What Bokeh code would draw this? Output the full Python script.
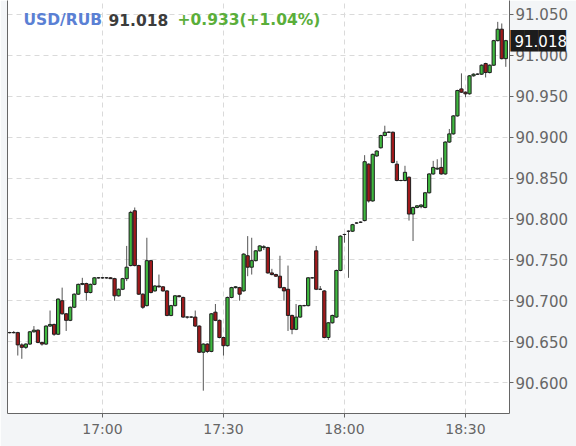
import pandas as pd
from bokeh.plotting import figure
from bokeh.models import (Range1d, FixedTicker, LinearAxis, Label, PrintfTickFormatter,
                          DatetimeTickFormatter, ColumnDataSource)
from bokeh.embed import file_html
from bokeh.resources import INLINE

# ---------------- data (1-minute candles, USD/RUB) ----------------
start_time = "2023-10-11 16:37"
opens = [90.661, 90.661, 90.661, 90.646, 90.643, 90.647, 90.662, 90.664, 90.649, 90.647,
         90.669, 90.671, 90.659, 90.700, 90.684, 90.676, 90.692, 90.708, 90.720, 90.721,
         90.710, 90.720, 90.728, 90.728, 90.728, 90.728, 90.727, 90.706, 90.714, 90.727,
         90.743, 90.810, 90.743, 90.708, 90.694, 90.749, 90.712, 90.718, 90.717, 90.712,
         90.682, 90.694, 90.706, 90.704, 90.680, 90.680, 90.680, 90.669, 90.637, 90.647,
         90.638, 90.686, 90.676, 90.655, 90.645, 90.704, 90.716, 90.716, 90.712, 90.755,
         90.741, 90.749, 90.761, 90.765, 90.765, 90.734, 90.732, 90.730, 90.716, 90.714,
         90.682, 90.665, 90.680, 90.694, 90.694, 90.728, 90.761, 90.714, 90.712, 90.655,
         90.673, 90.680, 90.737, 90.781, 90.785, 90.785, 90.795, 90.796, 90.798, 90.867,
         90.822, 90.877, 90.887, 90.902, 90.906, 90.906, 90.867, 90.847, 90.847, 90.851,
         90.806, 90.814, 90.815, 90.814, 90.832, 90.855, 90.861, 90.863, 90.855, 90.894,
         90.904, 90.926, 90.959, 90.955, 90.953, 90.975, 90.977, 90.977, 90.990, 90.979,
         90.988, 91.018, 91.032, 90.996]
highs = [90.662, 90.663, 90.662, 90.648, 90.648, 90.663, 90.669, 90.665, 90.650, 90.670,
         90.688, 90.672, 90.703, 90.716, 90.685, 90.693, 90.709, 90.721, 90.728, 90.722,
         90.721, 90.729, 90.729, 90.729, 90.729, 90.729, 90.728, 90.715, 90.728, 90.767,
         90.810, 90.814, 90.744, 90.709, 90.777, 90.750, 90.719, 90.732, 90.718, 90.713,
         90.695, 90.707, 90.707, 90.705, 90.681, 90.681, 90.688, 90.670, 90.648, 90.648,
         90.685, 90.696, 90.677, 90.656, 90.705, 90.717, 90.718, 90.717, 90.758, 90.779,
         90.777, 90.762, 90.768, 90.768, 90.766, 90.739, 90.733, 90.755, 90.717, 90.743,
         90.683, 90.696, 90.695, 90.695, 90.729, 90.729, 90.767, 90.718, 90.713, 90.674,
         90.683, 90.738, 90.780, 90.782, 90.786, 90.794, 90.796, 90.797, 90.878, 90.868,
         90.880, 90.884, 90.903, 90.914, 90.907, 90.907, 90.871, 90.848, 90.865, 90.852,
         90.815, 90.817, 90.818, 90.833, 90.856, 90.871, 90.873, 90.875, 90.895, 90.910,
         90.927, 90.958, 90.978, 90.956, 90.976, 90.978, 90.978, 90.989, 90.991, 90.989,
         91.019, 91.041, 91.039, 91.019]
lows = [90.660, 90.660, 90.633, 90.629, 90.641, 90.646, 90.661, 90.648, 90.645, 90.646,
        90.668, 90.657, 90.658, 90.683, 90.663, 90.675, 90.691, 90.707, 90.719, 90.700,
        90.709, 90.719, 90.727, 90.727, 90.727, 90.727, 90.700, 90.705, 90.713, 90.724,
        90.742, 90.742, 90.707, 90.690, 90.693, 90.709, 90.711, 90.716, 90.711, 90.681,
        90.681, 90.693, 90.704, 90.679, 90.678, 90.679, 90.668, 90.636, 90.590, 90.636,
        90.637, 90.675, 90.654, 90.633, 90.644, 90.703, 90.715, 90.700, 90.711, 90.730,
        90.732, 90.748, 90.760, 90.762, 90.733, 90.731, 90.729, 90.715, 90.700, 90.663,
        90.659, 90.664, 90.679, 90.693, 90.693, 90.727, 90.713, 90.713, 90.654, 90.652,
        90.672, 90.679, 90.736, 90.771, 90.728, 90.784, 90.794, 90.795, 90.797, 90.820,
        90.821, 90.876, 90.886, 90.901, 90.905, 90.868, 90.846, 90.846, 90.846, 90.798,
        90.773, 90.813, 90.813, 90.813, 90.831, 90.854, 90.860, 90.854, 90.854, 90.893,
        90.903, 90.925, 90.954, 90.949, 90.952, 90.974, 90.976, 90.976, 90.973, 90.978,
        90.987, 91.017, 90.995, 90.986]
closes = [90.661, 90.661, 90.646, 90.643, 90.647, 90.662, 90.664, 90.649, 90.647, 90.669,
          90.671, 90.659, 90.702, 90.684, 90.676, 90.692, 90.708, 90.720, 90.721, 90.710,
          90.720, 90.728, 90.728, 90.728, 90.728, 90.727, 90.706, 90.714, 90.727, 90.741,
          90.808, 90.743, 90.708, 90.692, 90.749, 90.710, 90.718, 90.717, 90.712, 90.682,
          90.694, 90.706, 90.705, 90.680, 90.680, 90.680, 90.669, 90.637, 90.647, 90.638,
          90.684, 90.676, 90.655, 90.645, 90.704, 90.716, 90.717, 90.708, 90.757, 90.741,
          90.749, 90.761, 90.767, 90.766, 90.734, 90.732, 90.730, 90.716, 90.712, 90.682,
          90.665, 90.680, 90.694, 90.694, 90.728, 90.728, 90.714, 90.714, 90.655, 90.673,
          90.682, 90.737, 90.779, 90.781, 90.785, 90.793, 90.795, 90.796, 90.870, 90.822,
          90.879, 90.883, 90.902, 90.906, 90.906, 90.869, 90.847, 90.847, 90.857, 90.806,
          90.814, 90.816, 90.817, 90.832, 90.855, 90.863, 90.862, 90.855, 90.894, 90.904,
          90.926, 90.957, 90.955, 90.953, 90.975, 90.977, 90.977, 90.988, 90.979, 90.988,
          91.018, 91.032, 90.996, 91.018]

x_tick_labels = ["17:00", "17:30", "18:00", "18:30"]
y_ticks = [90.600, 90.650, 90.700, 90.750, 90.800, 90.850, 90.900, 90.950, 91.000, 91.050]

symbol = "USD/RUB"
last_price = "91.018"
change_text = "+0.933(+1.04%)"
last_value = 91.018

# ---------------- build ----------------
day = start_time.split(" ")[0]
times = pd.date_range(start_time, periods=len(opens), freq="1min")
up = [c >= o for o, c in zip(opens, closes)]
src = ColumnDataSource(dict(
    t=times,
    high=highs, low=lows,
    top=[max(o, c) for o, c in zip(opens, closes)],
    bottom=[min(o, c) for o, c in zip(opens, closes)],
    fill=["#3fb83f" if u else "#a0191b" for u in up],
))

def ms(hm):
    return pd.Timestamp(f"{day} {hm}").value // 10**6

x_start = ms("16:36:27")
x_end = ms("18:40:55")

p = figure(width=576, height=446, x_axis_type="datetime", y_axis_location="right",
           output_backend="svg", toolbar_location=None,
           x_range=Range1d(x_start, x_end), y_range=Range1d(90.5621, 91.0671),
           min_border_left=7, min_border_top=0, min_border_right=67, min_border_bottom=33,
           background_fill_color="white", border_fill_color="#f3f5f7")
p.outline_line_color = None

# grid
xt = FixedTicker(ticks=[ms(s) for s in x_tick_labels])
p.xaxis.ticker = xt
p.xgrid.ticker = xt
p.yaxis.ticker = FixedTicker(ticks=y_ticks)
for g in (p.xgrid, p.ygrid):
    g.grid_line_color = "#dadada"
    g.grid_line_dash = "5 4"
    g.grid_line_width = 1

# axes styling
p.xaxis.formatter = DatetimeTickFormatter(minutes="%H:%M", hours="%H:%M", hourmin="%H:%M",
                                          days="%H:%M", minsec="%H:%M")
p.yaxis.formatter = PrintfTickFormatter(format="%.3f")
for ax in (p.xaxis, p.yaxis):
    ax.axis_label = None
    ax.axis_line_color = "#666666"
    ax.major_tick_line_color = "#666666"
    ax.major_tick_in = 0
    ax.major_tick_out = 4
    ax.minor_tick_line_color = None
    ax.major_label_text_color = "#666666"
    ax.major_label_text_font = "DejaVu Sans"
p.xaxis.major_label_text_font_size = "14px"
p.xaxis.major_label_standoff = 3
p.yaxis.major_label_text_font_size = "15px"
p.yaxis.major_label_standoff = 2

left_ax = LinearAxis(ticker=FixedTicker(ticks=[]), axis_line_color="#666666",
                     major_tick_line_color=None, minor_tick_line_color=None,
                     major_tick_in=0, major_tick_out=0, minor_tick_in=0, minor_tick_out=0,
                     major_label_text_font_size="0px", major_label_standoff=0)
p.add_layout(left_ax, "left")

# last price tag: a dark block axis label, then the white value on top of it
def tag_axis(standoff, color, size, override=None):
    ax = LinearAxis(ticker=FixedTicker(ticks=[last_value]),
                    formatter=PrintfTickFormatter(format="%.3f"),
                    axis_line_color=None, major_tick_line_color=None,
                    minor_tick_line_color=None, major_tick_in=0, major_tick_out=0,
                    minor_tick_in=0, minor_tick_out=0,
                    major_label_standoff=standoff, major_label_text_color=color,
                    major_label_text_font="DejaVu Sans", major_label_text_font_size=size)
    if override is not None:
        ax.major_label_overrides = {last_value: override}
    return ax

p.add_layout(tag_axis(-60, "#1c1c1c", "18px", "\u2588" * 4), "right")
p.add_layout(tag_axis(-56, "white", "15px"), "right")

# candles
w = 0.8 * 60 * 1000
p.segment(x0="t", y0="high", x1="t", y1="low", source=src, line_color="#555555", line_width=1)
p.vbar(x="t", width=w, top="top", bottom="bottom", source=src,
       fill_color="fill", line_color="#1e1e1e", line_width=1)

# header texts (screen units measured from frame bottom-left)
hdr_font = "DejaVu Sans"
for xs, txt, col in ((16, symbol, "#5a80d4"), (101, last_price, "#3c3c3c"),
                     (170, change_text, "#5aae3a")):
    p.add_layout(Label(x=xs, y=394, x_units="screen", y_units="screen", text=txt,
                       text_font=hdr_font, text_font_style="bold", text_font_size="15.5px",
                       text_color=col, text_baseline="alphabetic", level="overlay"))

open("out.html", "w").write(file_html(p, INLINE))
